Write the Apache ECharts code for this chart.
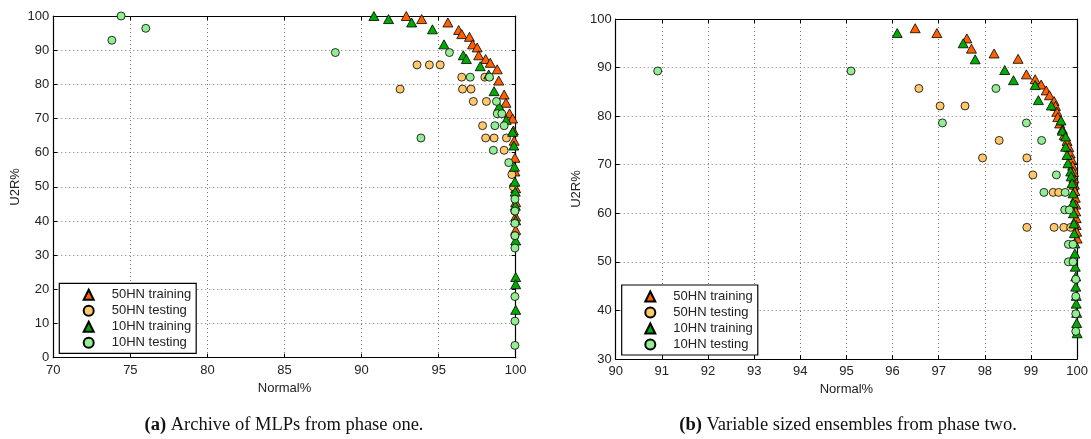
<!DOCTYPE html>
<html>
<head>
<meta charset="utf-8">
<script src="https://cdn.jsdelivr.net/npm/echarts@6/dist/echarts.min.js"></script>
<style>
  html, body { margin: 0; padding: 0; background: #fff; }
  #chart { width: 1091px; height: 439px; }
</style>
</head>
<body>
<div id="chart"></div>
<script>
// Series names, shared by both panels
const seriesNames = ['50HN training', '50HN testing', '10HN training', '10HN testing'];

// Tick values
const ticksA_x = [70, 75, 80, 85, 90, 95, 100];
const ticksA_y = [0, 10, 20, 30, 40, 50, 60, 70, 80, 90, 100];
const ticksB_x = [90, 91, 92, 93, 94, 95, 96, 97, 98, 99, 100];
const ticksB_y = [30, 40, 50, 60, 70, 80, 90, 100];

// Panel (a): archive of MLPs from phase one  [Normal%, U2R%]
const a_train50 = [
  [92.9, 100], [93.9, 99.1], [95.6, 98.1], [96.3, 95.9], [96.5, 94.7], [97.0, 93.9],
  [97.2, 91.7], [97.5, 90.8], [97.6, 88.5], [98.05, 87.4], [98.35, 86.3], [98.8, 84.4],
  [98.9, 81.1], [99.25, 77.0], [99.37, 74.6], [99.6, 71.5], [99.8, 70.0], [99.85, 66.5],
  [99.9, 63.5], [99.95, 58.5], [99.95, 54.5], [100, 49.6], [100, 45.5], [100, 41.3], [100, 37.4]
];
const a_test50 = [
  [92.5, 78.6], [93.6, 85.7], [94.4, 85.7], [95.1, 85.7], [96.5, 82.1], [98.0, 82.1],
  [96.55, 78.6], [97.1, 78.6], [97.25, 75.0], [98.1, 75.0], [97.85, 67.9], [98.05, 64.3],
  [98.6, 64.3], [99.4, 64.3], [99.25, 60.7], [99.75, 53.6], [99.85, 50.0], [99.95, 42.9],
  [99.95, 35.7]
];
const a_train10 = [
  [90.8, 100], [91.75, 99.1], [93.25, 98.1], [94.6, 96.1], [95.35, 91.7], [96.6, 88.5],
  [96.8, 87.4], [97.7, 85.3], [98.25, 82.9], [98.6, 78.0], [98.93, 73.6], [99.38, 69.6],
  [99.8, 66.1], [99.88, 62.1], [99.92, 55.9], [99.95, 51.5], [99.97, 48.6], [99.98, 44.5],
  [100, 40.2], [100, 34.3], [100, 23.6], [100, 21.5], [100, 14.0]
];
const a_test10 = [
  [73.8, 92.9], [74.4, 100], [76.0, 96.4], [88.3, 89.3], [93.85, 64.3], [95.7, 89.3],
  [97.05, 82.1], [98.3, 82.1], [98.75, 75.0], [98.8, 71.4], [99.1, 71.4], [98.65, 67.9],
  [99.25, 67.9], [98.55, 60.7], [99.55, 57.1], [99.95, 46.4], [99.95, 42.9], [99.95, 39.3],
  [99.95, 35.7], [99.95, 32.1], [99.95, 17.9], [99.95, 10.7], [99.95, 3.6]
];

// Panel (b): variable sized ensembles from phase two  [Normal%, U2R%]
const b_train50 = [
  [96.49, 98.1], [96.96, 97.1], [97.61, 96.0], [97.71, 93.9], [98.2, 92.9], [98.72, 91.8],
  [98.9, 88.6], [99.09, 87.6], [99.22, 86.5], [99.33, 85.3], [99.4, 84.3], [99.5, 83.1],
  [99.53, 82.1], [99.56, 80.9], [99.58, 79.8], [99.62, 78.5], [99.68, 77.3], [99.72, 76.1],
  [99.78, 74.9], [99.82, 73.6], [99.85, 72.3], [99.88, 71.1], [99.9, 69.8], [99.92, 68.5],
  [99.93, 67.2], [99.94, 65.9], [99.95, 64.6], [99.96, 63.2], [99.97, 61.8], [99.97, 60.4],
  [99.98, 59.0], [99.98, 57.6], [99.99, 56.2], [100, 54.8]
];
const b_test50 = [
  [96.57, 85.7], [97.03, 82.1], [97.57, 82.1], [98.31, 75.0], [97.95, 71.4], [98.91, 71.4],
  [99.04, 67.9], [99.48, 64.3], [99.6, 64.3], [98.91, 57.1], [99.5, 57.1], [99.71, 57.1],
  [99.86, 57.1]
];
const b_train10 = [
  [96.1, 97.1], [97.53, 95.0], [97.79, 91.7], [98.43, 89.5], [98.62, 87.4], [99.09, 86.4],
  [99.16, 83.3], [99.44, 82.2], [99.65, 79.1], [99.68, 77.0], [99.75, 75.8], [99.75, 73.7],
  [99.78, 72.0], [99.8, 70.3], [99.86, 68.6], [99.87, 67.6], [99.89, 66.2], [99.91, 64.1],
  [99.91, 62.1], [99.92, 60.0], [99.93, 57.9], [99.94, 55.9], [99.95, 53.8], [99.95, 51.7],
  [99.96, 49.0], [99.97, 47.0], [99.97, 44.9], [99.98, 43.0], [99.98, 41.4], [99.99, 39.5],
  [99.99, 37.4], [100, 35.3]
];
const b_test10 = [
  [90.91, 89.3], [95.1, 89.3], [98.24, 85.7], [97.08, 78.6], [98.9, 78.6], [99.23, 75.0],
  [99.55, 67.9], [99.28, 64.3], [99.74, 64.3], [99.73, 60.7], [99.83, 60.7], [99.81, 53.6],
  [99.91, 53.6], [99.81, 50.0], [99.91, 50.0], [99.97, 46.4], [99.97, 42.9], [99.97, 39.3],
  [99.97, 35.7]
];

// Captions under each panel
const captionA = ['(a)', ' Archive of MLPs from phase one.'];
const captionB = ['(b)', ' Variable sized ensembles from phase two.'];

// Marker styles per series
const markerStyles = [
  { symbol: 'triangle', size: [10, 9], color: '#ff6000' },
  { symbol: 'circle',   size: 8,       color: '#ffc96b' },
  { symbol: 'triangle', size: [10, 9], color: '#00aa00' },
  { symbol: 'circle',   size: 8,       color: '#93ee93' }
];

const FONT = 'Liberation Sans, Arial, Helvetica, sans-serif';
const SERIF = '"Liberation Serif", "Times New Roman", serif';

function makeSeries(dataSets, axisIdx) {
  return dataSets.map((d, i) => ({
    name: seriesNames[i],
    type: 'scatter',
    xAxisIndex: axisIdx,
    yAxisIndex: axisIdx,
    data: d,
    symbol: markerStyles[i].symbol,
    symbolSize: markerStyles[i].size,
    itemStyle: { color: markerStyles[i].color, borderColor: '#000', borderWidth: 0.8, opacity: 1 },
    emphasis: { disabled: true },
    silent: true,
    z: 3 + i
  }));
}

function mainXAxis(gridIndex, ticks, nameGap) {
  return {
    type: 'value', gridIndex, position: 'bottom',
    min: ticks[0], max: ticks[ticks.length - 1], interval: ticks[1] - ticks[0],
    name: 'Normal%', nameLocation: 'middle', nameGap,
    nameTextStyle: { fontFamily: FONT, fontSize: 13, color: '#222' },
    axisLine: { show: true, onZero: false, lineStyle: { color: '#000', width: 1.2 } },
    axisTick: { show: true, inside: true, length: 4, lineStyle: { color: '#000' } },
    axisLabel: { fontFamily: FONT, fontSize: 13, color: '#222', margin: 6 },
    splitLine: { show: true, lineStyle: { color: '#777', type: [1, 3], width: 1 } }
  };
}
function mainYAxis(gridIndex, ticks, nameGap) {
  return {
    type: 'value', gridIndex, position: 'left',
    min: ticks[0], max: ticks[ticks.length - 1], interval: ticks[1] - ticks[0],
    name: 'U2R%', nameLocation: 'middle', nameGap,
    nameTextStyle: { fontFamily: FONT, fontSize: 13, color: '#222' },
    axisLine: { show: true, onZero: false, lineStyle: { color: '#000', width: 1.2 } },
    axisTick: { show: true, inside: true, length: 4, lineStyle: { color: '#000' } },
    axisLabel: { fontFamily: FONT, fontSize: 13, color: '#222', margin: 4 },
    splitLine: { show: true, lineStyle: { color: '#777', type: [1, 3], width: 1 } }
  };
}
// Box edges (top / right) with inward ticks and no labels
function edgeAxis(gridIndex, ticks, position) {
  return {
    type: 'value', gridIndex, position,
    min: ticks[0], max: ticks[ticks.length - 1], interval: ticks[1] - ticks[0],
    axisLine: { show: true, onZero: false, lineStyle: { color: '#000', width: 1.2 } },
    axisTick: { show: true, inside: true, length: 4, lineStyle: { color: '#000' } },
    axisLabel: { show: false },
    splitLine: { show: false }
  };
}

function makeLegend(left, top, padLeft) {
  return {
    left, top, orient: 'vertical',
    data: seriesNames,
    itemWidth: 10, itemHeight: 10, itemGap: 3,
    padding: [5, 5, 4, padLeft],
    backgroundColor: '#fff',
    borderColor: '#000', borderWidth: 1.2, borderRadius: 0,
    selectedMode: false,
    textStyle: { fontFamily: FONT, fontSize: 13, color: '#222', padding: [0, 0, 0, 13] }
  };
}

function caption(parts, cx) {
  return {
    type: 'text',
    silent: true,
    style: {
      x: cx, y: 425, align: 'center', verticalAlign: 'middle',
      text: '{b|' + parts[0] + '}' + parts[1],
      fontFamily: SERIF, fontSize: 18.5, fill: '#111',
      rich: { b: { fontFamily: SERIF, fontSize: 18.5, fontWeight: 'bold', fill: '#111' } }
    }
  };
}

const chart = echarts.init(document.getElementById('chart'), null, { renderer: 'canvas' });

chart.setOption({
  animation: false,
  backgroundColor: '#fff',
  grid: [
    { left: 53.3, top: 16, right: 575.3, bottom: 81.3, containLabel: false },
    { left: 615.7, top: 19, right: 12.7, bottom: 80, containLabel: false }
  ],
  xAxis: [
    mainXAxis(0, ticksA_x, 23),
    mainXAxis(1, ticksB_x, 22),
    edgeAxis(0, ticksA_x, 'top'),
    edgeAxis(1, ticksB_x, 'top')
  ],
  yAxis: [
    mainYAxis(0, ticksA_y, 31),
    mainYAxis(1, ticksB_y, 33),
    edgeAxis(0, ticksA_y, 'right'),
    edgeAxis(1, ticksB_y, 'right')
  ],
  legend: [
    makeLegend(59.3, 283.3, 23.4),
    makeLegend(621.7, 285, 22.6)
  ],
  series: [
    ...makeSeries([a_train50, a_test50, a_train10, a_test10], 0),
    ...makeSeries([b_train50, b_test50, b_train10, b_test10], 1)
  ],
  graphic: [
    caption(captionA, 284),
    caption(captionB, 848)
  ]
});
</script>
</body>
</html>
